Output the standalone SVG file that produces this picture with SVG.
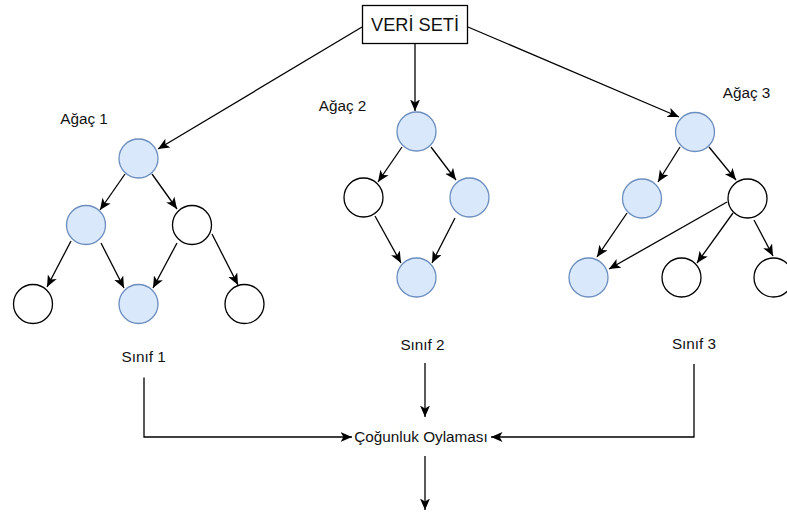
<svg xmlns="http://www.w3.org/2000/svg" width="787" height="514" viewBox="0 0 787 514">
  <style>
    .lbl { font-family: "Liberation Sans", Arial, sans-serif; font-size: 15.3px; fill: #111; text-anchor: middle; }
    .title { font-family: "Liberation Sans", Arial, sans-serif; font-size: 18.2px; fill: #111; text-anchor: middle; }
    .blue { fill: #dae8fc; stroke: #6c8ebf; stroke-width: 1.3; }
    .plain { fill: #fff; stroke: #000; stroke-width: 1.3; }
    .edge { fill: none; stroke: #000; stroke-width: 1.3; marker-end: url(#arrow); }
  </style>
  <defs>
    <!-- classic notched arrowhead shared by every connector -->
    <marker id="arrow" markerUnits="userSpaceOnUse" markerWidth="13" markerHeight="12" refX="11.5" refY="5" orient="auto">
      <path d="M0,0 L11.5,5 L0,10 L2.9,5 Z" fill="#000"/>
    </marker>
  </defs>
  <rect width="787" height="514" fill="#fff"/>

  <!-- root dataset -->
  <g id="veri-seti">
    <rect x="362.5" y="5.5" width="105" height="38" fill="#fff" stroke="#000" stroke-width="1.3"/>
    <text class="title" x="415" y="31">VERİ SETİ</text>
  </g>

  <!-- tree 1 -->
  <g id="agac1-label"><text class="lbl" x="84" y="124">Ağaç 1</text></g>
  <g id="t1-root"><circle class="blue" cx="138.5" cy="158.5" r="19.5"/></g>
  <g id="t1-left"><circle class="blue" cx="86" cy="225" r="19.5"/></g>
  <g id="t1-right"><circle class="plain" cx="192" cy="225" r="19.5"/></g>
  <g id="t1-bl"><circle class="plain" cx="33" cy="304" r="19.5"/></g>
  <g id="t1-bm"><circle class="blue" cx="138.5" cy="304" r="19.5"/></g>
  <g id="t1-br"><circle class="plain" cx="244.5" cy="304" r="19.5"/></g>

  <!-- tree 2 -->
  <g id="agac2-label"><text class="lbl" x="342.5" y="110.5">Ağaç 2</text></g>
  <g id="t2-root"><circle class="blue" cx="416.5" cy="131.5" r="19.5"/></g>
  <g id="t2-left"><circle class="plain" cx="363.5" cy="197.5" r="19.5"/></g>
  <g id="t2-right"><circle class="blue" cx="469.5" cy="197.5" r="19.5"/></g>
  <g id="t2-bottom"><circle class="blue" cx="416.5" cy="277.5" r="19.5"/></g>

  <!-- tree 3 -->
  <g id="agac3-label"><text class="lbl" x="746.5" y="97.5">Ağaç 3</text></g>
  <g id="t3-root"><circle class="blue" cx="695" cy="132" r="19.5"/></g>
  <g id="t3-left"><circle class="blue" cx="642" cy="198.5" r="19.5"/></g>
  <g id="t3-right"><circle class="plain" cx="747.5" cy="198.5" r="19.5"/></g>
  <g id="t3-bl"><circle class="blue" cx="588.5" cy="277.5" r="19.5"/></g>
  <g id="t3-bm"><circle class="plain" cx="681.5" cy="277.5" r="19.5"/></g>
  <g id="t3-br"><circle class="plain" cx="773.5" cy="277.5" r="19.5"/></g>

  <!-- class results and vote -->
  <g id="sinif1"><text class="lbl" x="143.7" y="362">Sınıf 1</text></g>
  <g id="sinif2"><text class="lbl" x="422.5" y="350">Sınıf 2</text></g>
  <g id="sinif3"><text class="lbl" x="694" y="348.5">Sınıf 3</text></g>
  <g id="cogunluk"><text class="lbl" x="421" y="442">Çoğunluk Oylaması</text></g>

  <g id="connectors">
    <line class="edge" x1="362" y1="27" x2="158" y2="149"/>
    <line class="edge" x1="415" y1="43.5" x2="415" y2="111"/>
    <line class="edge" x1="468" y1="27" x2="679" y2="117"/>

    <line class="edge" x1="125" y1="174" x2="100" y2="210"/>
    <line class="edge" x1="152" y1="174" x2="177" y2="209"/>
    <line class="edge" x1="71" y1="241" x2="47" y2="287"/>
    <line class="edge" x1="101" y1="243" x2="124" y2="288"/>
    <line class="edge" x1="177" y1="243" x2="153" y2="288"/>
    <line class="edge" x1="212" y1="234" x2="238" y2="285"/>

    <line class="edge" x1="402" y1="147" x2="378" y2="182"/>
    <line class="edge" x1="431" y1="147" x2="456" y2="180"/>
    <line class="edge" x1="375" y1="216" x2="401" y2="263"/>
    <line class="edge" x1="455" y1="218" x2="432" y2="263"/>

    <line class="edge" x1="680" y1="147" x2="658" y2="182"/>
    <line class="edge" x1="709" y1="147" x2="736" y2="180"/>
    <line class="edge" x1="627" y1="213" x2="597" y2="257"/>
    <line class="edge" x1="727" y1="202" x2="609" y2="269"/>
    <line class="edge" x1="733" y1="213" x2="697" y2="263"/>
    <line class="edge" x1="754" y1="220" x2="773" y2="256"/>

    <polyline class="edge" points="144,377.5 144,437 352,437"/>
    <line class="edge" x1="425" y1="363" x2="425" y2="417"/>
    <polyline class="edge" points="694,364 694,437 491,437"/>
    <line class="edge" x1="425" y1="456" x2="425" y2="510"/>
  </g>
</svg>
